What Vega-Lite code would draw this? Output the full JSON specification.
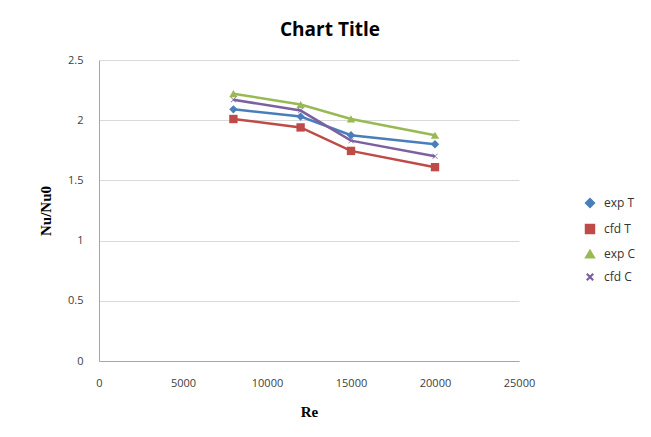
{
  "$schema": "https://vega.github.io/schema/vega-lite/v6.json",
  "width": 420,
  "height": 301,
  "autosize": "none",
  "padding": {"left": 99, "top": 60, "right": 132, "bottom": 76},
  "background": "white",
  "title": {"text": "Chart Title", "font": "Open Sans", "fontSize": 19, "fontWeight": "bold", "color": "#000000", "anchor": "middle", "offset": 14, "dx": 21},
  "config": {"view": {"stroke": null}},
  "data": {"values": [
    {"Re": 8000, "Nu": 2.09, "series": "exp T"},
    {"Re": 12000, "Nu": 2.03, "series": "exp T"},
    {"Re": 15000, "Nu": 1.875, "series": "exp T"},
    {"Re": 20000, "Nu": 1.80, "series": "exp T"},
    {"Re": 8000, "Nu": 2.01, "series": "cfd T"},
    {"Re": 12000, "Nu": 1.94, "series": "cfd T"},
    {"Re": 15000, "Nu": 1.745, "series": "cfd T"},
    {"Re": 20000, "Nu": 1.61, "series": "cfd T"},
    {"Re": 8000, "Nu": 2.22, "series": "exp C"},
    {"Re": 12000, "Nu": 2.13, "series": "exp C"},
    {"Re": 15000, "Nu": 2.01, "series": "exp C"},
    {"Re": 20000, "Nu": 1.875, "series": "exp C"},
    {"Re": 8000, "Nu": 2.17, "series": "cfd C"},
    {"Re": 12000, "Nu": 2.08, "series": "cfd C"},
    {"Re": 15000, "Nu": 1.83, "series": "cfd C"},
    {"Re": 20000, "Nu": 1.70, "series": "cfd C"}
  ]},
  "encoding": {
    "x": {"field": "Re", "type": "quantitative", "scale": {"domain": [0, 25000], "nice": false},
      "axis": {"values": [0, 5000, 10000, 15000, 20000, 25000], "format": "d", "title": "Re", "grid": false, "ticks": false, "labelFlush": false, "domainColor": "#A6A6A6", "labelFont": "Open Sans", "labelFontSize": 11, "labelColor": "#404040", "labelPadding": 16, "titleFont": "Liberation Serif", "titleFontSize": 15, "titleFontWeight": "bold", "titleColor": "#000000", "titlePadding": 16}},
    "y": {"field": "Nu", "type": "quantitative", "scale": {"domain": [0, 2.5], "nice": false},
      "axis": {"values": [0, 0.5, 1, 1.5, 2, 2.5], "format": "~g", "title": "Nu/Nu0", "grid": true, "gridColor": "#D9D9D9", "ticks": false, "labelFlush": false, "domainColor": "#A6A6A6", "labelFont": "Open Sans", "labelFontSize": 11, "labelColor": "#404040", "labelPadding": 16, "titleFont": "Liberation Serif", "titleFontSize": 15, "titleFontWeight": "bold", "titleColor": "#000000", "titlePadding": 14}},
    "color": {"field": "series", "type": "nominal", "sort": ["exp T", "cfd T", "exp C", "cfd C"],
      "scale": {"domain": ["exp T", "cfd T", "exp C", "cfd C"], "range": ["#4A7EBB", "#BE4B48", "#98B954", "#7D60A0"]},
      "legend": {"title": null, "orient": "none", "legendX": 485, "legendY": 137, "labelFont": "Open Sans", "labelFontSize": 12, "labelColor": "#333333", "rowPadding": 10, "symbolSize": 80, "labelOffset": 8}}
  },
  "layer": [
    {"mark": {"type": "line", "strokeWidth": 2.5}, "encoding": {"detail": {"field": "series"}}},
    {"mark": {"type": "point", "filled": true, "size": 70, "opacity": 1},
      "encoding": {"shape": {"field": "series", "type": "nominal", "sort": ["exp T", "cfd T", "exp C", "cfd C"],
        "scale": {"domain": ["exp T", "cfd T", "exp C", "cfd C"], "range": ["diamond", "square", "triangle-up", "M-0.55,-0.65L0,-0.1L0.55,-0.65L0.65,-0.55L0.1,0L0.65,0.55L0.55,0.65L0,0.1L-0.55,0.65L-0.65,0.55L-0.1,0L-0.65,-0.55Z"]}}}}
  ]
}
